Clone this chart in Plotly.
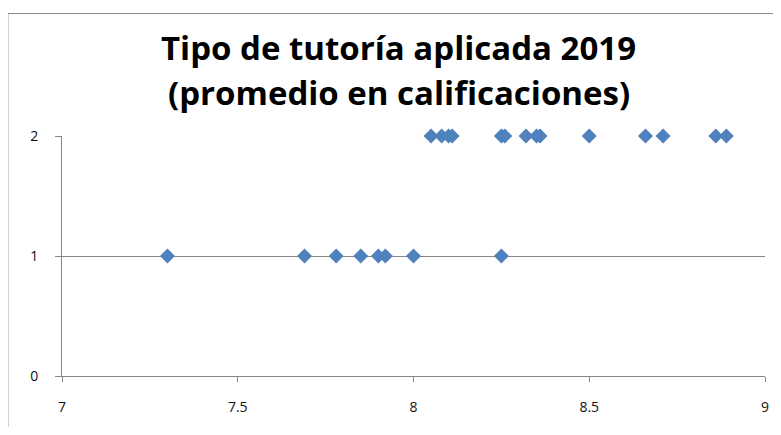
import plotly.graph_objects as go

tipo_1 = [7.30, 7.69, 7.78, 7.85, 7.90, 7.92, 8.00, 8.25]
tipo_2 = [8.05, 8.08, 8.10, 8.11, 8.25, 8.26, 8.32, 8.35, 8.36, 8.50, 8.66, 8.71, 8.86, 8.89]

titulo = ["Tipo de tutoría aplicada 2019", "(promedio en calificaciones)"]
x_ticks = [7, 7.5, 8, 8.5, 9]
y_ticks = [0, 1, 2]

x_vals = tipo_1 + tipo_2
y_vals = [1] * len(tipo_1) + [2] * len(tipo_2)

fig = go.Figure()

fig.add_trace(
    go.Scatter(
        x=x_vals,
        y=y_vals,
        mode="markers",
        marker=dict(symbol="diamond", size=11.5, color="#4F81BD"),
        cliponaxis=False,
        showlegend=False,
    )
)

# page body has an 8px margin, so the figure is sized to fit inside it
fig.update_layout(
    width=765,
    height=419,
    paper_bgcolor="white",
    plot_bgcolor="white",
    margin=dict(l=54, r=8, t=128, b=51, autoexpand=False),
    font=dict(family="'Open Sans', sans-serif", color="#000000", size=13),
)

# two title lines placed separately to match the line spacing
for txt, ypos in zip(titulo, [1.367, 1.183]):
    fig.add_annotation(
        text=f"<b>{txt}</b>",
        xref="paper",
        yref="paper",
        x=0.479,
        y=ypos,
        xanchor="center",
        yanchor="middle",
        showarrow=False,
        font=dict(size=33, family="'Open Sans', sans-serif", color="#000000"),
    )

fig.update_xaxes(
    range=[7, 9],
    tickvals=x_ticks,
    showgrid=False,
    zeroline=False,
    showline=True,
    linecolor="#868686",
    linewidth=1,
    ticks="outside",
    tickcolor="#868686",
    ticklen=5,
    ticklabelstandoff=13,
    tickfont=dict(size=14, color="#111111"),
    automargin=False,
)

fig.update_yaxes(
    range=[0, 2],
    tickvals=y_ticks,
    showgrid=True,
    gridcolor="#868686",
    gridwidth=1,
    zeroline=False,
    showline=True,
    linecolor="#868686",
    linewidth=1,
    ticks="outside",
    tickcolor="#868686",
    ticklen=6,
    ticklabelstandoff=14,
    tickfont=dict(size=14, color="#111111"),
    automargin=False,
)

# chart frame
fig.add_shape(
    type="rect",
    xref="paper",
    yref="paper",
    x0=-0.077,
    x1=1.2,
    y0=-0.5,
    y1=1.51,
    line=dict(color="#868686", width=1),
    fillcolor="rgba(0,0,0,0)",
    layer="below",
)

fig.write_html("out.html")
